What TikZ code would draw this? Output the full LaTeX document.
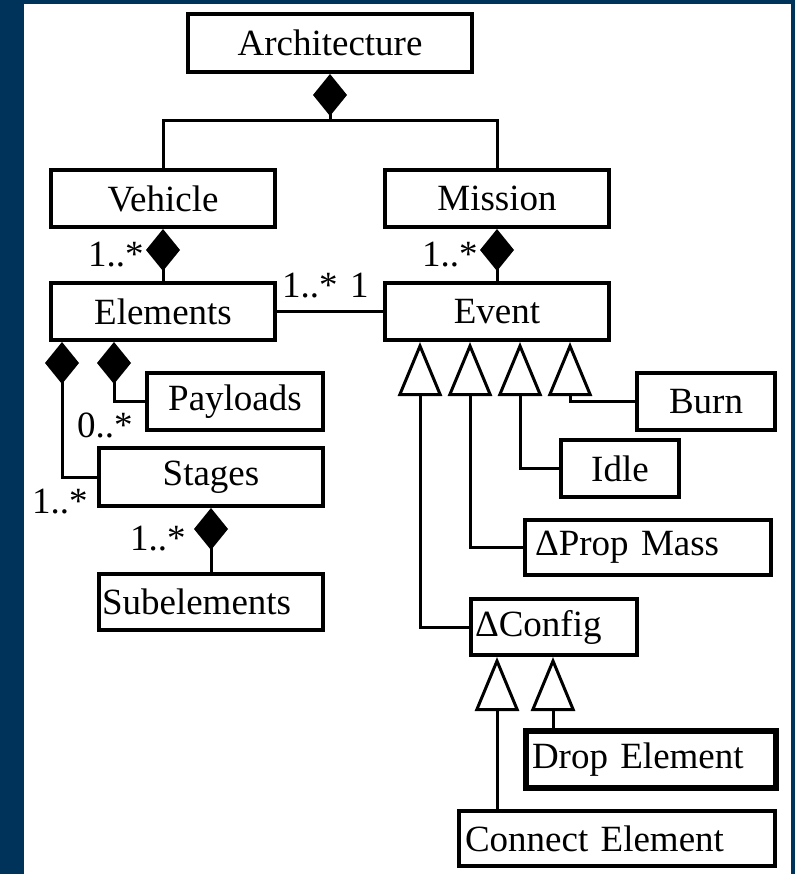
\documentclass[tikz,border=0pt]{standalone}
\usepackage{fontspec}
\setmainfont{Liberation Serif}
\usetikzlibrary{arrows.meta, positioning}
\definecolor{navyframe}{RGB}{0,51,89}
\tikzset{
  box/.style={
    rectangle, draw, line width=4pt, text centered,
    minimum width=224pt, minimum height=57pt, inner sep=0pt
  },
  lbox/.style={box, align=left, minimum width=0pt, inner xsep=#1},
  line/.style={line width=3pt},
  comp/.style={line, {Diamond[length=42pt, width=34pt]}-},
  gen/.style={line, -{Triangle[open, length=54pt, width=44pt, line width=3pt]}},
  mult/.style={inner sep=0pt, anchor=base west},
}

\begin{document}
\begin{tikzpicture}[x=1pt, y=-1pt, font=\fontsize{37}{40}\selectfont]

%% ---- FRAME ----
\useasboundingbox (0,0) rectangle (795,874);
\fill[navyframe] (0,0) rectangle (795,874);
\fill[white] (24,4) rectangle (791,874);

%% ---- TOP ----
\node[box, minimum width=284pt, minimum height=58pt] (arch) at (330,43) {Architecture};
\node[box] (veh) at (163,198.5) {Vehicle};
\node[box] (mis) at (497,198.5) {Mission};
\node[box] (elem)  at (163,311.5) {Elements};
\node[box] (event) at (497,311.5) {Event};

\coordinate (archj) at (330,121);
\draw[comp] (arch.south) -- (archj);
\draw[line] (veh.north) |- (archj) -| (mis.north);
\draw[comp] (veh.south) -- (elem.north);
\draw[comp] (mis.south) -- (event.north);
\draw[line] (elem.east) -- (event.west);

\node[mult] (mveh)  at (88,267)  {1..*};
\node[mult] (mmis)  at (422,267) {1..*};
\node[mult] (melem) at (282,297) {1..*};
\node[mult] (mevt)  at (350,297) {1};

%% ---- VEHICLE PARTS ----
\node[box, minimum width=176pt] (payl) at (235,401.5) {Payloads};
\node[box, minimum height=58pt] (stages) at (211,477) {Stages};
\node[lbox=3pt, text width=218pt, minimum height=56pt] (subel) at (211,602) {Subelements};

\draw[comp] ([xshift=13pt]elem.south west) |- (stages.west);
\draw[comp] ([xshift=65pt]elem.south west) |- (payl.west);
\draw[comp] (stages.south) -- (subel.north);

\node[mult] (mpayl)  at (77,437)  {0..*};
\node[mult] (mstage) at (32,513)  {1..*};
\node[mult] (msub)   at (130,550) {1..*};

%% ---- EVENT KINDS ----
\node[box, minimum width=138pt] (burn) at (706,401.5) {Burn};
\node[box, minimum width=118pt] (idle) at (620,468.5) {Idle};
\node[lbox=10pt, text width=226pt, minimum height=55pt] (prop) at (648,547.5) {ΔProp Mass};
\node[lbox=4pt, text width=158pt, minimum height=56pt] (config) at (554,627) {ΔConfig};

\draw[gen] (burn.west)   -| ([xshift=187pt]event.south west);
\draw[gen] (idle.west)   -| ([xshift=137pt]event.south west);
\draw[gen] (prop.west)   -| ([xshift=87pt]event.south west);
\draw[gen] (config.west) -| ([xshift=37pt]event.south west);

%% ---- CONFIG CHANGES ----
\node[lbox=6pt, text width=238pt, line width=6pt] (drop) at (651,759.5) {Drop Element};
\node[lbox=6pt, text width=304pt, minimum height=55pt] (conn) at (617,838.5) {Connect Element};

\coordinate (cfgA) at ([xshift=28pt]config.south west);
\coordinate (cfgB) at ([xshift=84pt]config.south west);
\draw[gen] (cfgA |- conn.north) -- (cfgA);
\draw[gen] (cfgB |- drop.north) -- (cfgB);

\end{tikzpicture}
\end{document}
